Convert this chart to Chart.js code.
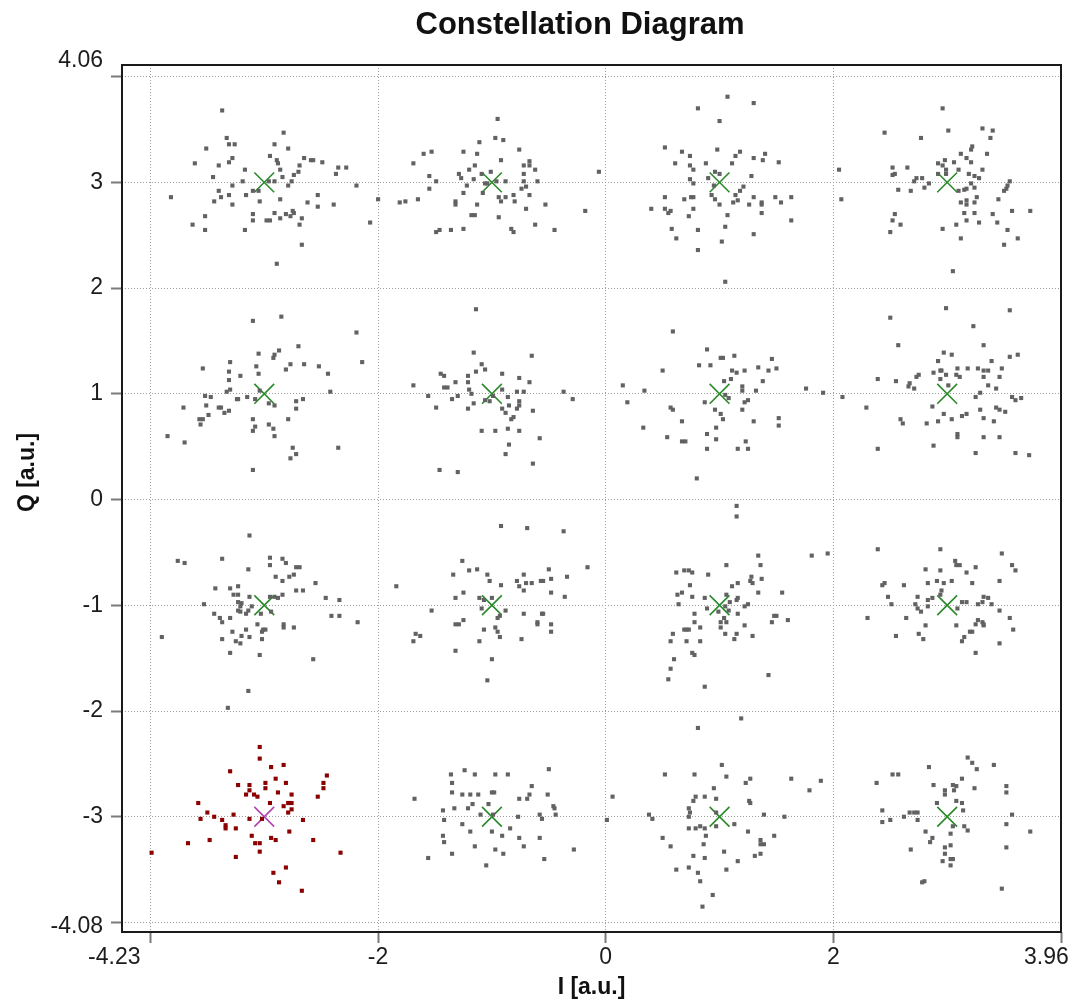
<!DOCTYPE html>
<html>
<head>
<meta charset="utf-8">
<script src="https://cdn.jsdelivr.net/npm/chart.js@4.4.1/dist/chart.umd.min.js"></script>
<style>
html,body{margin:0;padding:0;background:#ffffff;}
canvas{display:block;}
</style>
</head>
<body>
<canvas id="c" width="1078" height="1003"></canvas>
<script>
// ---------- texts ----------
const chartTitle = "Constellation Diagram";
const xAxisTitle = "I [a.u.]";
const yAxisTitle = "Q [a.u.]";

// ---------- axes ----------
const xRange = [-4.25, 4.0];
const yRange = [-4.09, 4.11];
const xGridValues = [-4, -2, 0, 2, 4];
const yGridValues = [-4, -3, -2, -1, 0, 1, 2, 3, 4];
const xTickLabelValues = [-4.23, -2, 0, 2, 3.96];
const yTickLabelValues = [-4.08, -3, -2, -1, 0, 1, 2, 3, 4.06];

// ---------- ideal constellation (16-QAM) ----------
const idealI = [-3, -1, 1, 3, -3, -1, 1, 3, -3, -1, 1, 3, -1, 1, 3];
const idealQ = [3, 3, 3, 3, 1, 1, 1, 1, -1, -1, -1, -1, -3, -3, -3];
const selectedIdeal = [-3, -3];

// ---------- received symbols [I, Q] ----------
const cloudM3P3 = [[-3.37,3.68],[-3.33,3.42],[-3.31,3.36],[-3.26,3.36],[-3.51,3.32],[-2.83,3.47],[-2.91,3.36],[-2.79,3.32],[-2.95,3.25],[-2.89,3.21],[-2.88,3.18],[-2.86,3.12],[-2.84,3.05],[-3.31,3.19],[-3.28,3.23],[-3.61,3.18],[-3.40,3.16],[-3.45,3.05],[-3.17,3.12],[-3.19,3.01],[-3.28,2.97],[-2.65,3.23],[-2.59,3.21],[-2.57,3.21],[-2.49,3.19],[-2.69,3.16],[-2.70,3.10],[-2.74,3.07],[-2.76,3.01],[-2.79,2.97],[-2.37,3.08],[-2.35,3.14],[-2.28,3.14],[-2.19,2.97],[-3.40,2.92],[-3.38,2.86],[-3.44,2.82],[-3.31,2.88],[-3.28,2.79],[-3.82,2.86],[-3.16,2.88],[-3.10,2.92],[-3.04,2.82],[-2.86,2.84],[-2.62,2.81],[-2.53,2.88],[-2.53,2.77],[-2.39,2.79],[-3.52,2.68],[-3.63,2.60],[-3.52,2.55],[-3.17,2.55],[-3.10,2.70],[-3.10,2.64],[-2.98,2.64],[-2.95,2.64],[-2.91,2.71],[-2.86,2.66],[-2.81,2.70],[-2.77,2.68],[-2.75,2.73],[-2.74,2.71],[-2.67,2.66],[-2.69,2.60],[-2.67,2.41],[-2.89,2.23],[-2.07,2.62],[-2.00,2.84],[-2.91,3.01],[-2.96,3.01],[-3.05,2.92]];
const cloudM1P3 = [[-0.95,3.60],[-0.97,3.42],[-0.90,3.40],[-1.11,3.38],[-1.25,3.29],[-1.13,3.27],[-1.60,3.27],[-1.53,3.29],[-1.69,3.18],[-0.76,3.31],[-0.92,3.21],[-1.15,3.16],[-1.20,3.12],[-1.29,3.08],[-1.27,3.04],[-1.22,2.97],[-1.16,3.03],[-1.09,3.08],[-1.01,3.10],[-1.55,3.06],[-1.49,3.01],[-1.55,2.94],[-1.08,2.90],[-1.25,2.90],[-1.32,2.82],[-1.32,2.79],[-1.13,2.79],[-0.94,2.86],[-0.92,2.82],[-0.88,2.86],[-0.88,3.01],[-0.72,3.16],[-0.67,3.20],[-0.67,3.16],[-0.62,3.12],[-0.72,3.08],[-0.72,3.01],[-0.60,3.01],[-0.70,2.96],[-0.74,2.94],[-0.67,2.88],[-0.81,2.88],[-0.80,2.82],[-0.53,2.79],[-0.70,2.75],[-0.94,2.67],[-1.18,2.69],[-1.15,2.69],[-1.65,2.84],[-1.76,2.82],[-1.81,2.81],[-1.49,2.53],[-1.46,2.55],[-1.36,2.55],[-1.25,2.56],[-0.83,2.56],[-0.81,2.53],[-0.62,2.60],[-0.45,2.55],[-0.18,2.73],[-0.06,3.10],[-1.04,2.99],[-1.06,2.99],[-0.96,3.01]];
const cloudP1P3 = [[1.07,3.81],[1.30,3.75],[0.81,3.70],[1.00,3.58],[0.52,3.33],[0.67,3.29],[0.74,3.25],[0.61,3.18],[0.74,3.16],[0.77,3.12],[0.88,3.18],[0.98,3.31],[1.14,3.25],[1.18,3.29],[1.11,3.18],[1.30,3.23],[1.38,3.21],[1.40,3.27],[1.52,3.19],[1.28,3.06],[0.74,3.03],[0.77,2.99],[0.90,3.04],[0.96,3.10],[1.00,3.08],[0.95,2.97],[0.93,2.88],[0.96,2.84],[1.00,2.79],[1.14,2.88],[1.18,2.92],[1.21,2.96],[1.12,2.81],[1.16,2.83],[1.26,2.79],[1.30,2.86],[1.37,2.81],[1.37,2.79],[1.49,2.86],[1.54,2.81],[1.63,2.86],[1.37,2.71],[1.63,2.64],[1.30,2.51],[1.07,2.69],[1.05,2.58],[1.02,2.44],[0.81,2.36],[0.81,2.55],[0.73,2.68],[0.77,2.75],[0.69,2.84],[0.75,2.86],[0.77,2.86],[0.52,2.86],[0.40,2.75],[0.52,2.75],[0.55,2.71],[0.57,2.73],[0.58,2.56],[0.62,2.47],[1.05,2.06]];
const cloudP3P3 = [[2.96,3.70],[2.45,3.47],[3.01,3.49],[2.77,3.42],[3.31,3.51],[3.40,3.49],[3.38,3.42],[3.22,3.34],[3.21,3.31],[3.35,3.27],[3.12,3.27],[3.17,3.23],[3.21,3.19],[3.06,3.19],[2.98,3.21],[2.92,3.18],[2.96,3.16],[2.99,3.12],[2.92,3.08],[2.99,3.08],[3.10,3.12],[3.19,3.08],[3.24,3.06],[3.28,3.04],[3.31,3.12],[2.52,3.14],[2.65,3.14],[2.52,3.07],[2.54,3.08],[2.71,3.01],[2.73,3.04],[2.78,3.04],[2.84,2.99],[2.80,2.95],[2.57,2.93],[2.68,2.92],[3.15,2.93],[3.17,2.94],[3.21,2.99],[3.24,2.95],[3.10,2.92],[3.55,3.01],[3.53,2.97],[3.52,2.94],[3.50,2.92],[3.26,2.86],[3.45,2.84],[3.12,2.81],[3.17,2.83],[3.17,2.79],[3.24,2.81],[3.15,2.71],[3.24,2.71],[3.17,2.64],[3.28,2.62],[3.08,2.60],[2.96,2.56],[3.12,2.47],[3.40,2.70],[3.44,2.62],[3.57,2.73],[3.73,2.73],[3.53,2.55],[3.62,2.47],[3.50,2.41],[2.54,2.70],[2.52,2.64],[2.59,2.60],[2.50,2.53],[3.05,2.16],[2.05,3.12],[2.07,2.84]];
const cloudM3P1 = [[-3.10,1.69],[-2.85,1.73],[-2.19,1.58],[-2.14,1.30],[-2.70,1.45],[-2.87,1.41],[-2.91,1.37],[-2.92,1.34],[-3.05,1.38],[-3.07,1.26],[-3.05,1.19],[-3.30,1.30],[-3.54,1.24],[-3.31,1.21],[-3.31,1.13],[-3.21,1.17],[-2.81,1.23],[-2.77,1.28],[-2.65,1.28],[-2.52,1.26],[-2.44,1.19],[-2.42,1.02],[-3.33,1.02],[-3.30,1.04],[-3.52,0.98],[-3.47,0.97],[-3.51,0.89],[-3.71,0.87],[-3.40,0.87],[-3.38,0.87],[-3.49,0.80],[-3.57,0.76],[-3.54,0.76],[-3.56,0.71],[-3.35,0.82],[-3.31,0.84],[-3.24,0.95],[-3.23,0.95],[-3.15,0.97],[-3.08,0.95],[-2.96,0.91],[-2.91,0.89],[-2.72,0.93],[-2.66,0.95],[-2.72,0.86],[-2.79,0.76],[-3.10,0.76],[-3.08,0.69],[-3.10,0.65],[-2.96,0.71],[-2.92,0.67],[-2.91,0.60],[-3.85,0.60],[-3.70,0.54],[-2.75,0.49],[-2.72,0.43],[-2.77,0.39],[-2.35,0.49],[-3.10,0.28],[-3.04,1.03]];
const cloudM1P1 = [[-1.14,1.80],[-1.16,1.39],[-1.09,1.28],[-1.06,1.23],[-1.14,1.21],[-1.21,1.17],[-1.21,1.11],[-1.32,1.11],[-1.45,1.19],[-1.42,1.17],[-1.42,1.06],[-1.39,1.06],[-1.69,1.08],[-1.56,0.98],[-1.35,0.95],[-1.30,0.98],[-1.20,1.04],[-1.18,1.00],[-1.49,0.87],[-1.21,0.86],[-1.16,0.91],[-1.02,0.93],[-0.91,1.19],[-0.76,1.15],[-0.67,1.11],[-0.65,1.36],[-0.91,1.04],[-0.86,0.97],[-0.78,1.02],[-0.72,1.02],[-0.76,0.93],[-0.76,0.89],[-0.85,0.89],[-0.91,0.86],[-0.88,0.82],[-0.78,0.86],[-0.83,0.76],[-0.81,0.78],[-0.64,0.84],[-0.37,1.02],[-0.29,0.95],[-1.09,0.65],[-0.97,0.65],[-0.86,0.67],[-0.76,0.65],[-0.85,0.52],[-0.88,0.43],[-0.58,0.58],[-0.64,0.34],[-1.46,0.28],[-1.30,0.26],[-0.99,0.98],[-1.06,0.94]];
const cloudP1P1 = [[0.59,1.59],[0.15,1.08],[0.19,0.92],[0.34,1.03],[0.50,1.22],[0.89,1.42],[0.82,1.27],[0.92,1.27],[1.01,1.34],[1.03,1.34],[1.13,1.36],[1.11,1.22],[1.15,1.20],[1.22,1.22],[1.10,1.14],[1.04,1.12],[1.20,1.07],[1.20,1.03],[1.32,1.03],[1.34,1.25],[1.43,1.22],[1.50,1.24],[1.46,1.33],[1.38,1.12],[1.76,1.05],[1.91,1.01],[0.57,0.87],[0.59,0.85],[0.33,0.68],[0.54,0.59],[0.67,0.74],[0.67,0.55],[0.70,0.55],[0.87,0.92],[0.96,0.85],[1.01,0.81],[1.03,0.76],[0.97,0.68],[0.89,0.62],[0.97,0.57],[0.89,0.48],[1.08,0.96],[1.22,0.92],[1.25,0.94],[1.20,0.85],[1.30,0.74],[1.23,0.55],[1.16,0.48],[1.25,0.48],[1.52,0.77],[1.52,0.70],[0.80,0.20],[1.05,0.99]];
const cloudP3P1 = [[2.99,1.81],[3.55,1.79],[2.50,1.72],[3.23,1.64],[2.57,1.46],[3.32,1.46],[2.97,1.39],[3.04,1.37],[2.92,1.31],[3.55,1.35],[3.62,1.37],[3.39,1.31],[2.88,1.20],[2.94,1.22],[2.95,1.22],[2.99,1.18],[2.94,1.14],[3.08,1.18],[3.11,1.16],[3.09,1.24],[3.18,1.24],[3.27,1.24],[3.32,1.22],[3.36,1.22],[3.32,1.16],[3.48,1.24],[3.46,1.16],[3.36,1.08],[3.43,1.05],[3.29,1.01],[3.25,0.97],[3.01,1.08],[2.39,1.14],[2.55,1.12],[2.66,1.07],[2.67,1.10],[2.71,1.05],[2.73,1.16],[2.75,1.18],[2.08,0.97],[2.29,0.87],[2.59,0.76],[2.61,0.72],[2.82,0.72],[2.87,0.88],[2.92,0.74],[2.97,0.81],[3.04,0.76],[3.13,0.79],[3.17,0.81],[3.29,0.85],[3.32,0.77],[3.43,0.87],[3.46,0.85],[3.51,0.83],[3.41,0.74],[3.57,0.97],[3.60,0.94],[3.65,0.96],[3.09,0.62],[3.09,0.59],[2.88,0.51],[3.32,0.59],[3.46,0.59],[2.39,0.48],[3.25,0.44],[3.60,0.44],[3.72,0.42]];
const cloudM3M1 = [[-3.13,-0.34],[-3.76,-0.58],[-3.70,-0.60],[-3.37,-0.56],[-3.14,-0.66],[-2.95,-0.55],[-2.95,-0.62],[-2.84,-0.56],[-2.81,-0.60],[-2.72,-0.64],[-2.69,-0.64],[-2.74,-0.71],[-2.78,-0.73],[-2.90,-0.73],[-2.84,-0.77],[-2.55,-0.79],[-2.72,-0.86],[-2.66,-0.86],[-2.84,-0.90],[-2.95,-0.92],[-2.91,-0.92],[-2.88,-0.93],[-3.43,-0.84],[-3.30,-0.84],[-3.23,-0.82],[-3.27,-0.90],[-3.23,-0.90],[-3.13,-0.92],[-3.53,-0.99],[-3.23,-0.97],[-3.21,-1.01],[-3.23,-1.05],[-3.20,-0.98],[-3.11,-1.01],[-3.14,-1.05],[-3.16,-1.08],[-3.21,-1.06],[-3.44,-1.08],[-3.39,-1.12],[-3.37,-1.16],[-3.30,-1.12],[-3.03,-1.08],[-2.94,-1.06],[-3.06,-1.18],[-3.28,-1.25],[-3.16,-1.23],[-3.20,-1.29],[-3.13,-1.30],[-3.25,-1.34],[-3.21,-1.36],[-3.37,-1.32],[-3.02,-1.32],[-3.02,-1.25],[-3.01,-1.23],[-2.99,-1.23],[-2.83,-1.18],[-2.83,-1.21],[-2.74,-1.21],[-2.46,-0.93],[-2.34,-0.95],[-2.41,-1.10],[-2.34,-1.10],[-2.18,-1.16],[-3.90,-1.30],[-3.30,-1.45],[-3.04,-1.47],[-2.57,-1.51],[-3.14,-1.81],[-3.32,-1.97]];
const cloudM1M1 = [[-0.92,-0.25],[-0.69,-0.27],[-0.37,-0.30],[-0.16,-0.64],[-1.26,-0.58],[-1.34,-0.71],[-1.20,-0.67],[-1.13,-0.66],[-1.04,-0.71],[-1.02,-0.77],[-0.92,-0.81],[-1.84,-0.82],[-1.25,-0.88],[-1.32,-0.93],[-1.11,-0.93],[-1.07,-0.95],[-1.00,-0.93],[-1.09,-1.03],[-0.88,-1.05],[-0.93,-1.10],[-0.95,-1.12],[-0.78,-0.77],[-0.76,-0.82],[-0.72,-0.71],[-0.72,-0.86],[-0.70,-0.79],[-0.65,-0.79],[-0.57,-0.77],[-0.55,-0.77],[-0.50,-0.66],[-0.48,-0.75],[-0.48,-0.88],[-0.34,-0.73],[-0.36,-0.92],[-0.72,-1.08],[-0.56,-1.08],[-0.55,-1.08],[-0.60,-1.16],[-0.60,-1.18],[-0.48,-1.18],[-0.48,-1.25],[-0.74,-1.32],[-1.53,-1.05],[-1.25,-1.14],[-1.32,-1.18],[-1.29,-1.18],[-1.07,-1.23],[-0.97,-1.21],[-0.95,-1.25],[-0.93,-1.30],[-1.11,-1.34],[-1.67,-1.27],[-1.63,-1.29],[-1.69,-1.34],[-1.32,-1.43],[-1.00,-1.51],[-1.04,-1.71]];
const cloudP1M1 = [[1.15,-0.06],[1.15,-0.16],[1.81,-0.53],[1.95,-0.51],[1.34,-0.53],[1.36,-0.62],[1.06,-0.62],[0.90,-0.71],[0.62,-0.69],[0.69,-0.67],[0.73,-0.67],[0.76,-0.69],[0.74,-0.81],[0.63,-0.90],[0.67,-0.88],[0.64,-0.99],[0.76,-0.92],[0.87,-0.93],[0.89,-1.03],[1.06,-0.90],[1.11,-0.82],[1.16,-0.79],[1.28,-0.73],[1.27,-0.77],[1.29,-0.79],[1.37,-0.75],[1.34,-0.88],[1.55,-0.88],[1.15,-0.95],[1.16,-0.93],[1.09,-0.97],[1.22,-1.01],[1.25,-0.99],[1.05,-1.01],[1.08,-1.05],[1.16,-1.08],[0.78,-1.08],[0.78,-1.16],[0.99,-1.06],[1.04,-1.12],[1.01,-1.16],[1.06,-1.16],[1.01,-1.21],[1.05,-1.27],[1.15,-1.27],[1.13,-1.32],[1.22,-1.19],[1.29,-1.29],[1.46,-1.16],[1.48,-1.10],[1.50,-1.10],[1.60,-1.14],[0.83,-1.21],[0.69,-1.23],[0.71,-1.23],[0.73,-1.23],[0.59,-1.27],[0.57,-1.34],[0.71,-1.34],[0.83,-1.34],[0.76,-1.45],[0.78,-1.47],[0.60,-1.51],[0.57,-1.60],[0.55,-1.70],[0.87,-1.77],[1.43,-1.66]];
const cloudP3M1 = [[2.39,-0.47],[2.94,-0.47],[3.48,-0.51],[3.07,-0.58],[3.08,-0.62],[3.11,-0.62],[3.25,-0.64],[3.57,-0.62],[3.60,-0.67],[2.81,-0.66],[2.94,-0.67],[3.17,-0.69],[2.43,-0.81],[2.45,-0.79],[2.62,-0.81],[2.83,-0.79],[2.91,-0.77],[2.97,-0.79],[3.04,-0.77],[3.22,-0.79],[3.46,-0.77],[2.95,-0.86],[2.94,-0.90],[2.48,-0.92],[2.74,-0.92],[2.83,-0.95],[2.87,-0.93],[2.72,-0.99],[2.83,-1.01],[2.51,-0.99],[2.74,-1.03],[2.77,-1.06],[3.13,-0.97],[3.17,-0.97],[3.09,-1.03],[3.27,-0.99],[3.31,-0.97],[3.32,-0.92],[3.36,-0.93],[3.39,-0.99],[3.46,-1.05],[2.30,-1.12],[2.64,-1.12],[2.81,-1.19],[2.75,-1.27],[2.79,-1.32],[2.55,-1.29],[3.08,-1.19],[3.13,-1.34],[3.15,-1.30],[3.20,-1.25],[3.22,-1.25],[3.25,-1.18],[3.27,-1.14],[3.31,-1.16],[3.32,-1.18],[3.32,-1.19],[3.55,-1.12],[3.58,-1.23],[3.46,-1.36],[3.25,-1.45]];
const cloudM1M3 = [[-0.50,-2.55],[-1.36,-2.60],[-1.24,-2.56],[-1.15,-2.60],[-0.97,-2.60],[-0.86,-2.60],[-1.35,-2.68],[-1.35,-2.77],[-1.26,-2.79],[-1.19,-2.79],[-1.12,-2.79],[-1.00,-2.77],[-0.98,-2.77],[-0.65,-2.71],[-0.67,-2.79],[-0.76,-2.83],[-0.69,-2.83],[-0.51,-2.79],[-1.68,-2.83],[-1.17,-2.88],[-1.03,-2.88],[-1.21,-2.92],[-1.33,-2.92],[-1.43,-2.94],[-1.42,-3.03],[-1.10,-2.98],[-0.99,-2.98],[-0.77,-3.00],[-0.58,-2.98],[-0.56,-3.02],[-0.46,-2.90],[-0.45,-2.92],[-0.44,-2.98],[-1.26,-3.07],[-1.19,-3.14],[-1.00,-3.14],[-0.91,-3.18],[-0.84,-3.11],[-0.76,-3.20],[-0.72,-3.28],[-0.58,-3.20],[-1.43,-3.18],[-1.42,-3.24],[-1.15,-3.28],[-0.97,-3.31],[-0.90,-3.35],[-1.35,-3.35],[-1.56,-3.39],[-1.05,-3.46],[-0.54,-3.40],[-0.28,-3.31]];
const cloudP1M3 = [[1.19,-2.07],[0.81,-2.16],[1.02,-2.51],[0.52,-2.60],[0.78,-2.60],[1.06,-2.62],[1.23,-2.68],[1.27,-2.64],[1.63,-2.64],[1.89,-2.66],[1.79,-2.75],[0.95,-2.73],[0.87,-2.81],[0.97,-2.83],[0.79,-2.81],[0.77,-2.85],[1.26,-2.85],[1.27,-2.87],[0.73,-2.92],[0.74,-2.96],[0.73,-3.00],[0.38,-2.98],[0.41,-3.02],[0.97,-2.96],[1.39,-2.98],[1.57,-3.00],[0.73,-3.11],[0.79,-3.11],[0.83,-3.09],[0.87,-3.11],[0.97,-3.09],[1.13,-3.07],[1.25,-3.14],[1.48,-3.18],[1.36,-3.22],[1.36,-3.26],[1.39,-3.26],[0.50,-3.20],[0.57,-3.28],[0.88,-3.18],[0.86,-3.26],[1.04,-3.33],[0.77,-3.37],[0.87,-3.39],[1.16,-3.42],[1.31,-3.37],[1.36,-3.35],[0.62,-3.50],[0.73,-3.48],[1.06,-3.50],[0.81,-3.53],[0.83,-3.61],[0.94,-3.74],[0.85,-3.85],[0.06,-2.81],[0.01,-3.03]];
const cloudP3M3 = [[3.18,-2.44],[3.22,-2.49],[3.26,-2.55],[3.41,-2.51],[2.84,-2.53],[2.52,-2.60],[2.57,-2.60],[2.38,-2.68],[2.88,-2.70],[3.05,-2.70],[3.08,-2.71],[3.13,-2.64],[3.24,-2.73],[3.52,-2.71],[3.52,-2.77],[2.98,-2.75],[3.06,-2.75],[2.98,-2.79],[2.91,-2.87],[3.08,-2.85],[3.13,-2.87],[3.14,-2.94],[2.43,-2.94],[2.43,-3.05],[2.50,-3.03],[2.62,-3.00],[2.67,-2.96],[2.71,-2.96],[2.74,-2.96],[2.74,-3.03],[3.57,-2.98],[3.52,-3.07],[3.73,-3.14],[3.05,-3.09],[3.15,-3.09],[3.18,-3.13],[2.81,-3.14],[2.87,-3.20],[2.85,-3.24],[3.03,-3.16],[2.68,-3.31],[2.98,-3.29],[3.03,-3.27],[2.98,-3.35],[3.03,-3.40],[3.05,-3.40],[2.96,-3.42],[3.03,-3.46],[3.52,-3.29],[2.80,-3.61],[2.78,-3.62],[3.48,-3.68]];
// highlighted symbol cloud (red) around (-3, -3)
const cloudM3M3 = [[-3.04,-2.34],[-3.04,-2.45],[-3.30,-2.57],[-2.94,-2.53],[-2.83,-2.51],[-2.45,-2.61],[-2.48,-2.68],[-2.48,-2.73],[-2.53,-2.81],[-3.23,-2.70],[-3.13,-2.70],[-3.13,-2.75],[-3.16,-2.79],[-3.09,-2.79],[-3.06,-2.81],[-2.99,-2.68],[-2.99,-2.73],[-2.90,-2.64],[-2.81,-2.68],[-2.88,-2.77],[-2.76,-2.79],[-2.95,-2.87],[-2.79,-2.87],[-2.78,-2.87],[-2.76,-2.87],[-2.83,-2.90],[-2.76,-2.93],[-2.79,-2.96],[-3.58,-2.87],[-3.50,-2.96],[-3.44,-3.00],[-3.56,-3.02],[-3.37,-3.03],[-3.27,-2.98],[-3.34,-3.08],[-3.34,-3.11],[-3.25,-3.11],[-3.13,-3.02],[-2.66,-3.03],[-2.78,-3.14],[-3.11,-3.18],[-2.94,-3.20],[-2.90,-3.22],[-3.08,-3.25],[-3.04,-3.25],[-3.04,-3.33],[-3.48,-3.22],[-3.67,-3.25],[-3.25,-3.38],[-2.57,-3.22],[-2.33,-3.34],[-2.81,-3.48],[-2.92,-3.53],[-2.87,-3.62],[-2.67,-3.70],[-3.99,-3.34],[-3.02,-3.02]];

const grayClouds = [cloudM3P3, cloudM1P3, cloudP1P3, cloudP3P3, cloudM3P1, cloudM1P1, cloudP1P1, cloudP3P1,
                    cloudM3M1, cloudM1M1, cloudP1M1, cloudP3M1, cloudM1M3, cloudP1M3, cloudP3M3];

// ---------- build datasets ----------
const toXY = arr => arr.map(p => ({x: p[0], y: p[1]}));
const grayPoints = [].concat(...grayClouds.map(toXY));
const redPoints = toXY(cloudM3M3);
const idealPoints = idealI.map((v, i) => ({x: v, y: idealQ[i]}));
const selectedIdealPoint = [{x: selectedIdeal[0], y: selectedIdeal[1]}];

const FONT = '"Liberation Sans", Arial, Helvetica, sans-serif';
Chart.defaults.font.family = FONT;

const frame = {
  id: 'frame',
  afterDraw(chart) {
    const {ctx, chartArea: a} = chart;
    ctx.save();
    ctx.strokeStyle = '#1a1a1a';
    ctx.lineWidth = 2;
    ctx.strokeRect(a.left, a.top, a.right - a.left, a.bottom - a.top);
    ctx.restore();
  }
};

// tick labels and the vertical axis title
const axisText = {
  id: 'axisText',
  afterDraw(chart) {
    const {ctx} = chart;
    const xs = chart.scales.x, ys = chart.scales.y;
    ctx.save();
    ctx.font = '23px ' + FONT;
    ctx.fillStyle = '#1c1c1c';
    ctx.textAlign = 'center';
    ctx.textBaseline = 'middle';
    xTickLabelValues.forEach((v, i) => {
      const end = (i === 0 || i === xTickLabelValues.length - 1);
      ctx.fillText(String(v), xs.getPixelForValue(v) + (end ? -10 : 0), xs.top + 26);
    });
    ctx.textAlign = 'right';
    yTickLabelValues.forEach((v, i) => {
      const dy = i === 0 ? -4 : (i === yTickLabelValues.length - 1 ? -10 : 0);
      ctx.fillText(String(v), ys.right - 19, ys.getPixelForValue(v) + dy);
    });
    // vertical axis title
    ctx.font = 'bold 23px ' + FONT;
    ctx.fillStyle = '#111111';
    ctx.textAlign = 'center';
    ctx.translate(28, (chart.chartArea.top + chart.chartArea.bottom) / 2 - 26);
    ctx.rotate(-Math.PI / 2);
    ctx.fillText(yAxisTitle, 0, 0);
    ctx.restore();
  }
};

new Chart(document.getElementById('c'), {
  type: 'scatter',
  data: {
    datasets: [
      {label: 'Received', data: grayPoints, pointStyle: 'rect', pointRadius: 2.9,
       backgroundColor: '#626262', borderWidth: 0},
      {label: 'Selected', data: redPoints, pointStyle: 'rect', pointRadius: 2.9,
       backgroundColor: '#8b0000', borderWidth: 0},
      {label: 'Ideal', data: idealPoints, pointStyle: 'crossRot', pointRadius: 14,
       borderColor: '#2b8a2b', backgroundColor: '#2b8a2b', borderWidth: 1.6},
      {label: 'Selected ideal', data: selectedIdealPoint, pointStyle: 'crossRot', pointRadius: 14,
       borderColor: '#b244b2', backgroundColor: '#b244b2', borderWidth: 1.6}
    ]
  },
  options: {
    responsive: false,
    animation: false,
    devicePixelRatio: 1,
    events: [],
    layout: {padding: {left: 99, right: 17, top: 0, bottom: 0}},
    plugins: {
      legend: {display: false},
      tooltip: {enabled: false},
      title: {display: true, text: chartTitle, color: '#111111', fullSize: true,
              font: {size: 31, weight: 'bold'}, padding: {top: 6.5, bottom: 21.3}}
    },
    scales: {
      x: {
        type: 'linear', min: xRange[0], max: xRange[1],
        afterBuildTicks: s => { s.ticks = xGridValues.map(v => ({value: v})); },
        afterFit: s => { s.height = 71; },
        ticks: {display: false},
        grid: {color: '#9c9c9c', lineWidth: 1, drawTicks: true, tickLength: 11, tickColor: '#7a7a7a', tickWidth: 2},
        border: {display: false, dash: [1, 2]},
        title: {display: true, text: xAxisTitle, color: '#111111', font: {size: 23, weight: 'bold'},
                padding: {top: 0, bottom: 2}}
      },
      y: {
        type: 'linear', min: yRange[0], max: yRange[1],
        afterBuildTicks: s => { s.ticks = yGridValues.map(v => ({value: v})); },
        afterFit: s => { s.width = 23; },
        ticks: {display: false},
        grid: {color: '#9c9c9c', lineWidth: 1, drawTicks: true, tickLength: 11, tickColor: '#7a7a7a', tickWidth: 2},
        border: {display: false, dash: [1, 2]},
        title: {display: false}
      }
    }
  },
  plugins: [frame, axisText]
});
</script>
</body>
</html>
